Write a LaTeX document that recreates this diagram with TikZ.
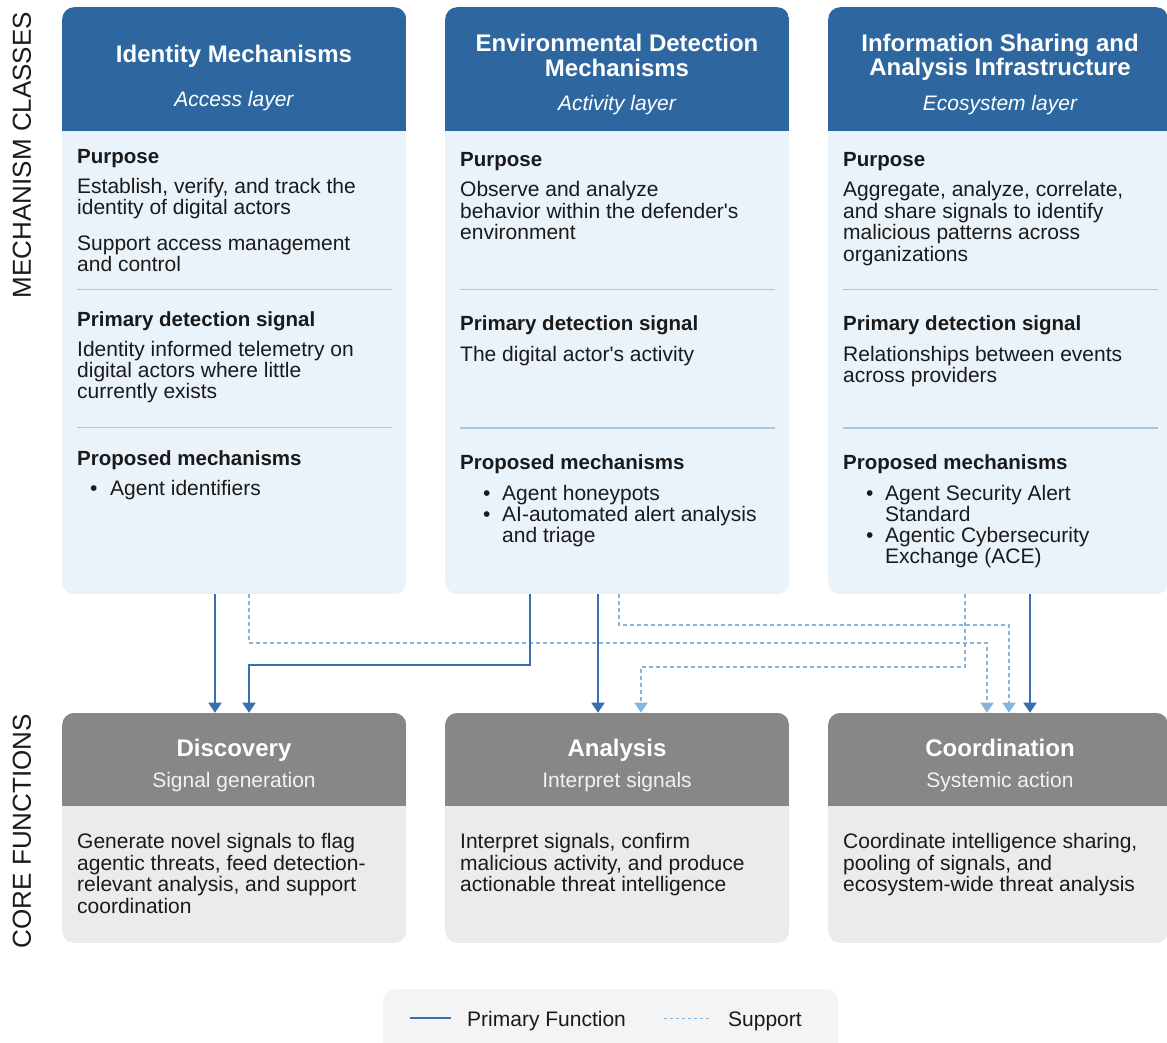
\documentclass[tikz,border=0pt]{standalone}
\usepackage{fontspec}
\setmainfont{Liberation Sans}[Ligatures=TeXOff]
\usetikzlibrary{arrows.meta}
\definecolor{hdrblue}{HTML}{2E679F}
\definecolor{bodyblue}{HTML}{EBF3FA}
\definecolor{seplc}{HTML}{A6C8E2}
\definecolor{primc}{HTML}{3770AB}
\definecolor{suppc}{HTML}{86B4DB}
\definecolor{hdrgray}{HTML}{878787}
\definecolor{bodygray}{HTML}{EBEBEB}
\definecolor{leggray}{HTML}{F4F4F4}
\definecolor{ink}{HTML}{1A1A1A}
\newcommand\bodyf{\fontsize{21}{21.5}\selectfont}
\newcommand\headf{\fontsize{20.5}{22}\selectfont\bfseries}
\newcommand\titlef{\fontsize{24}{25}\selectfont\bfseries}
\newcommand\layerf{\fontsize{21}{22}\selectfont\itshape}
\newcommand\sidef{\fontsize{26}{27}\selectfont}
\newcommand\tln[4]{\node[txt] (#1) at (#2,#3) {#4};}
\newcommand\hln[4]{\node[txt,font=\headf] (#1) at (#2,#3) {#4};}
\begin{document}
\begin{tikzpicture}[x=1pt,y=-1pt,
  txt/.style={anchor=base west,inner sep=0pt,text=ink,font=\bodyf},
  ttl/.style={anchor=base,inner sep=0pt,text=white,font=\titlef},
  lyr/.style={anchor=base,inner sep=0pt,text=white,font=\layerf},
  sub/.style={anchor=base,inner sep=0pt,text=white!95!black,font=\bodyf},
  topbox/.style={anchor=north west,minimum width=344pt,minimum height=587pt,inner sep=0pt,
    rounded corners=12pt,fill=bodyblue,
    path picture={\fill[hdrblue,sharp corners] (path picture bounding box.north west) rectangle ([yshift=-123.7pt]path picture bounding box.north east);}},
  fnbox/.style={anchor=north west,minimum width=344pt,minimum height=230pt,inner sep=0pt,
    rounded corners=12pt,fill=bodygray,
    path picture={\fill[hdrgray,sharp corners] (path picture bounding box.north west) rectangle ([yshift=-93.3pt]path picture bounding box.north east);}},
  sepline/.style={draw=seplc,line width=1.2pt},
  prim/.style={draw=primc,line width=2pt,-{Triangle[width=13pt,length=10pt]}},
  supp/.style={draw=suppc,line width=1.6pt,dash pattern=on 4pt off 3pt,-{Triangle[width=13pt,length=10pt]}},
  side/.style={rotate=90,inner sep=0pt,text=ink,font=\sidef}]
\useasboundingbox (0,0) rectangle (1167,1042);

% side labels
\node[side] (lab1) at (22,155) {MECHANISM CLASSES};
\node[side] (lab2) at (22,831) {CORE FUNCTIONS};

% mechanism boxes
\node[topbox] (m1) at (62,7) {};
\node[topbox] (m2) at (445,7) {};
\node[topbox,minimum width=340pt] (m3) at (828,7) {};

% function boxes
\node[fnbox] (f1) at (62,712.7) {};
\node[fnbox] (f2) at (445,712.7) {};
\node[fnbox,minimum width=340pt] (f3) at (828,712.7) {};

% legend box
\node[anchor=north west,minimum width=455pt,minimum height=70pt,inner sep=0pt,rounded corners=12pt,fill=leggray] (leg) at (383,989) {};

% ---- box 1
\node[ttl] (t1) at (234,62) {Identity Mechanisms};
\node[lyr] (l1) at (234,106) {Access layer};
\hln{a1}{77}{163}{Purpose}
\tln{a2}{77}{193}{Establish, verify, and track the}
\tln{a3}{77}{214.5}{identity of digital actors}
\tln{a4}{77}{250}{Support access management}
\tln{a5}{77}{271}{and control}
\draw[sepline] (77,289.5) -- (392,289.5);
\hln{a6}{77}{326}{Primary detection signal}
\tln{a7}{77}{356.7}{Identity informed telemetry on}
\tln{a8}{77}{377.5}{digital actors where little}
\tln{a9}{77}{398.5}{currently exists}
\draw[sepline] (77,427.7) -- (392,427.7);
\hln{a10}{77}{465}{Proposed mechanisms}
\tln{ab1}{90}{495.5}{•}
\tln{a11}{110}{495.5}{Agent identifiers}

% ---- box 2
\node[ttl] (t2a) at (617,51.7) {Environmental Detection};
\node[ttl] (t2b) at (617,76) {Mechanisms};
\node[lyr] (l2) at (617,110) {Activity layer};
\hln{b1}{460}{166.7}{Purpose}
\tln{b2}{460}{196.7}{Observe and analyze}
\tln{b3}{460}{218.3}{behavior within the defender's}
\tln{b4}{460}{239.5}{environment}
\draw[sepline] (460,289.5) -- (775,289.5);
\hln{b5}{460}{330}{Primary detection signal}
\tln{b6}{460}{361}{The digital actor's activity}
\draw[sepline] (460,428) -- (775,428);
\hln{b7}{460}{469}{Proposed mechanisms}
\tln{bb1}{483}{500}{•}
\tln{b8}{502}{500}{Agent honeypots}
\tln{bb2}{483}{521}{•}
\tln{b9}{502}{521}{AI-automated alert analysis}
\tln{b10}{502}{542}{and triage}

% ---- box 3
\node[ttl] (t3a) at (1000,51.7) {Information Sharing and};
\node[ttl] (t3b) at (1000,75.5) {Analysis Infrastructure};
\node[lyr] (l3) at (1000,110) {Ecosystem layer};
\hln{c1}{843}{166.7}{Purpose}
\tln{c2}{843}{196.7}{Aggregate, analyze, correlate,}
\tln{c3}{843}{218.3}{and share signals to identify}
\tln{c4}{843}{239.5}{malicious patterns across}
\tln{c5}{843}{261}{organizations}
\draw[sepline] (843,289.5) -- (1158,289.5);
\hln{c6}{843}{330}{Primary detection signal}
\tln{c7}{843}{361}{Relationships between events}
\tln{c8}{843}{382}{across providers}
\draw[sepline] (843,428) -- (1158,428);
\hln{c9}{843}{469}{Proposed mechanisms}
\tln{cb1}{866}{500}{•}
\tln{c10}{885}{500}{Agent Security Alert}
\tln{c11}{885}{521}{Standard}
\tln{cb2}{866}{542}{•}
\tln{c12}{885}{542}{Agentic Cybersecurity}
\tln{c13}{885}{563}{Exchange (ACE)}

% ---- function boxes text
\node[ttl] (ft1) at (234,756.7) {Discovery};
\node[sub] (fs1) at (234,787.3) {Signal generation};
\tln{d1}{77}{848.3}{Generate novel signals to flag}
\tln{d2}{77}{870}{agentic threats, feed detection-}
\tln{d3}{77}{891.7}{relevant analysis, and support}
\tln{d4}{77}{913.3}{coordination}

\node[ttl] (ft2) at (617,756.7) {Analysis};
\node[sub] (fs2) at (617,787.3) {Interpret signals};
\tln{e1}{460}{848.3}{Interpret signals, confirm}
\tln{e2}{460}{870}{malicious activity, and produce}
\tln{e3}{460}{891.7}{actionable threat intelligence}

\node[ttl] (ft3) at (1000,756.7) {Coordination};
\node[sub] (fs3) at (1000,787.3) {Systemic action};
\tln{g1}{843}{848.3}{Coordinate intelligence sharing,}
\tln{g2}{843}{870}{pooling of signals, and}
\tln{g3}{843}{891.7}{ecosystem-wide threat analysis}

% ---- connectors: support
\draw[supp] (249,0 |- m1.south) -- (249,643) -| (987,0 |- f3.north);
\draw[supp] (619,0 |- m2.south) -- (619,625) -| (1009,0 |- f3.north);
\draw[supp] (965,0 |- m3.south) -- (965,667) -| (641,0 |- f2.north);
% ---- connectors: primary
\draw[prim] (215,0 |- m1.south) -- (215,0 |- f1.north);
\draw[prim] (530,0 |- m2.south) -- (530,665) -| (249,0 |- f1.north);
\draw[prim] (598,0 |- m2.south) -- (598,0 |- f2.north);
\draw[prim] (1030,0 |- m3.south) -- (1030,0 |- f3.north);

% ---- legend
\coordinate (lp1) at (410,1018.3);
\coordinate (lp2) at (451,1018.3);
\coordinate (ls1) at (664,1018.3);
\coordinate (ls2) at (712,1018.3);
\draw[draw=primc,line width=2pt] (lp1) -- (lp2);
\draw[draw=suppc,line width=1.3pt,dash pattern=on 3pt off 3pt] (ls1) -- (ls2);
\tln{lg1}{467}{1026.7}{Primary Function}
\tln{lg2}{728}{1026.7}{Support}
\end{tikzpicture}
\end{document}
